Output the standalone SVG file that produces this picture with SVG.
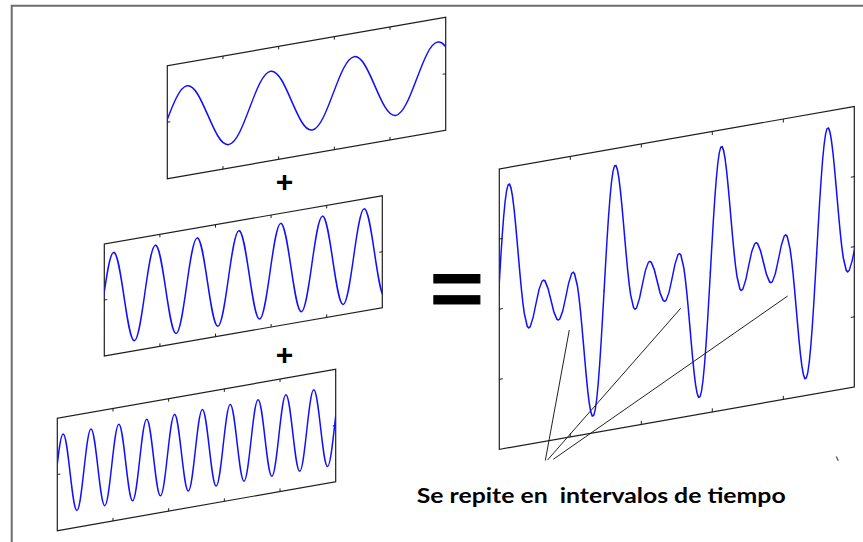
<svg xmlns="http://www.w3.org/2000/svg" xmlns:xlink="http://www.w3.org/1999/xlink" width="863" height="542" viewBox="0 0 863 542">
<style>
.frame{fill:#fff;stroke:#1e1e1e;stroke-width:1.2}
.tick{fill:none;stroke:#1e1e1e;stroke-width:1}
.wave{fill:none;stroke:#1010ff;stroke-width:1.5;stroke-linejoin:round;stroke-linecap:round}
.op{font-family:"Liberation Sans",Arial,sans-serif;font-weight:bold;fill:#000}
.lbl{font-family:Lato,"Open Sans",sans-serif;font-weight:bold;font-size:21px;fill:#000;white-space:pre}
.conn{fill:none;stroke:#222;stroke-width:1}
</style>
<defs>
<clipPath id="c1"><rect x="0" y="-62" width="278.4" height="124"/></clipPath>
<clipPath id="c2"><rect x="0" y="-62" width="278" height="124"/></clipPath>
<clipPath id="c3"><rect x="0" y="-62" width="278.4" height="124"/></clipPath>
<clipPath id="c4"><rect x="0" y="-150" width="355" height="300"/></clipPath>
<path id="bw" class="wave" d="M0,0 L1.48,-25.9 2.95,-50.6 4.43,-73 5.91,-92.1 7.38,-107.1 8.86,-117.5 10.33,-122.9 11.81,-123.3 13.29,-118.9 14.76,-110.3 16.24,-98.1 17.72,-83.1 19.19,-66.5 20.67,-49.1 22.15,-32 23.62,-16.1 25.1,-2.24 26.58,9 29.53,22.2 31,24 32.48,22.9 35.43,13.9 38.39,0 41.34,-13 44.29,-20.5 45.77,-21.3 47.24,-20.1 50.2,-12.3 53.15,0 56.1,12.3 59.06,20.1 60.53,21.3 62.01,20.5 64.96,13 67.91,0 70.87,-13.9 73.82,-22.9 75.3,-24 76.77,-22.2 79.73,-9 81.2,2.24 82.68,16.1 84.15,32 85.63,49.1 87.11,66.5 88.58,83.1 90.06,98.1 91.54,110.3 93.01,118.9 94.49,123.3 95.97,122.9 97.44,117.5 98.92,107.1 100.39,92.1 101.87,73 103.35,50.6 104.82,25.9 106.3,0"/>
</defs>

<path d="M11.7,542 V5.7 H863" fill="none" stroke="#6d6d6d" stroke-width="2"/>

<g id="panel-1" transform="matrix(1,-0.1746,0,1,167.3,122.3)">
<rect class="frame" x="0" y="-56.5" width="278.4" height="113"/>
<path class="tick" d="M55.68,-56.5v3M111.36,-56.5v3M167.04,-56.5v3M222.72,-56.5v3M55.68,56.5v-3M111.36,56.5v-3M167.04,56.5v-3M222.72,56.5v-3M0,0h3M278.4,0h-3"/>
<g clip-path="url(#c1)"><path class="wave" transform="translate(-1.2,0)" d="M0,0 c6.81,-16.91 13.33,-33 20.885,-33 s14.07,16.09 20.885,33 s13.33,33 20.885,33 s14.07,-16.09 20.885,-33 s13.33,-33 20.885,-33 s14.07,16.09 20.885,33 s13.33,33 20.885,33 s14.07,-16.09 20.885,-33 s13.33,-33 20.885,-33 s14.07,16.09 20.885,33 s13.33,33 20.885,33 s14.07,-16.09 20.885,-33 s13.33,-33 20.885,-33 s14.07,16.09 20.885,33"/></g>
</g>

<g id="panel-2" transform="matrix(1,-0.1737,0,1,104.3,300)">
<rect class="frame" x="0" y="-56" width="278" height="112"/>
<path class="tick" d="M55.6,-56v3M111.2,-56v3M166.8,-56v3M222.4,-56v3M55.6,56v-3M111.2,56v-3M166.8,56v-3M222.4,56v-3M0,0h3M278,0h-3"/>
<g clip-path="url(#c2)"><path class="wave" transform="translate(-1.2,0)" d="M0,0 c3.405,-23.57 6.662,-46 10.44,-46 s7.035,22.43 10.44,46 s6.662,46 10.44,46 s7.035,-22.43 10.44,-46 s6.662,-46 10.44,-46 s7.035,22.43 10.44,46 s6.662,46 10.44,46 s7.035,-22.43 10.44,-46 s6.662,-46 10.44,-46 s7.035,22.43 10.44,46 s6.662,46 10.44,46 s7.035,-22.43 10.44,-46 s6.662,-46 10.44,-46 s7.035,22.43 10.44,46 s6.662,46 10.44,46 s7.035,-22.43 10.44,-46 s6.662,-46 10.44,-46 s7.035,22.43 10.44,46 s6.662,46 10.44,46 s7.035,-22.43 10.44,-46 s6.662,-46 10.44,-46 s7.035,22.43 10.44,46 s6.662,46 10.44,46 s7.035,-22.43 10.44,-46 s6.662,-46 10.44,-46 s7.035,22.43 10.44,46 s6.662,46 10.44,46"/></g>
</g>

<g id="panel-3" transform="matrix(1,-0.176,0,1,57.3,474.5)">
<rect class="frame" x="0" y="-56.2" width="278.4" height="112.4"/>
<path class="tick" d="M55.68,-56.2v3M111.36,-56.2v3M167.04,-56.2v3M222.72,-56.2v3M55.68,56.2v-3M111.36,56.2v-3M167.04,56.2v-3M222.72,56.2v-3M0,0h3M278.4,0h-3"/>
<g clip-path="url(#c3)"><path class="wave" transform="translate(-1.2,0)" d="M0,0 c2.27,-20.24 4.442,-39.5 6.962,-39.5 s4.692,19.26 6.962,39.5 s4.442,39.5 6.962,39.5 s4.692,-19.26 6.962,-39.5 s4.442,-39.5 6.962,-39.5 s4.692,19.26 6.962,39.5 s4.442,39.5 6.962,39.5 s4.692,-19.26 6.962,-39.5 s4.442,-39.5 6.962,-39.5 s4.692,19.26 6.962,39.5 s4.442,39.5 6.962,39.5 s4.692,-19.26 6.962,-39.5 s4.442,-39.5 6.962,-39.5 s4.692,19.26 6.962,39.5 s4.442,39.5 6.962,39.5 s4.692,-19.26 6.962,-39.5 s4.442,-39.5 6.962,-39.5 s4.692,19.26 6.962,39.5 s4.442,39.5 6.962,39.5 s4.692,-19.26 6.962,-39.5 s4.442,-39.5 6.962,-39.5 s4.692,19.26 6.962,39.5 s4.442,39.5 6.962,39.5 s4.692,-19.26 6.962,-39.5 s4.442,-39.5 6.962,-39.5 s4.692,19.26 6.962,39.5 s4.442,39.5 6.962,39.5 s4.692,-19.26 6.962,-39.5 s4.442,-39.5 6.962,-39.5 s4.692,19.26 6.962,39.5 s4.442,39.5 6.962,39.5 s4.692,-19.26 6.962,-39.5 s4.442,-39.5 6.962,-39.5 s4.692,19.26 6.962,39.5 s4.442,39.5 6.962,39.5 s4.692,-19.26 6.962,-39.5 s4.442,-39.5 6.962,-39.5 s4.692,19.26 6.962,39.5 s4.442,39.5 6.962,39.5 s4.692,-19.26 6.962,-39.5 s4.442,-39.5 6.962,-39.5 s4.692,19.26 6.962,39.5 s4.442,39.5 6.962,39.5 s4.692,-19.26 6.962,-39.5 s4.442,-39.5 6.962,-39.5"/></g>
</g>

<g id="panel-sum" transform="matrix(1,-0.1759,0,1,499.3,309.15)">
<rect class="frame" x="0" y="-140.2" width="355" height="280.4"/>
<path class="tick" d="M71,-140.2v3.5M142,-140.2v3.5M213,-140.2v3.5M284,-140.2v3.5M71,140.2v-3.5M142,140.2v-3.5M213,140.2v-3.5M284,140.2v-3.5M0,-70.1h3.5M0,0h3.5M0,70.1h3.5M355,-70.1h-3.5M355,0h-3.5M355,70.1h-3.5"/>
<g clip-path="url(#c4)"><g transform="translate(-1.52,0)">
<use xlink:href="#bw"/>
<use xlink:href="#bw" x="106.3"/>
<use xlink:href="#bw" x="212.6"/>
<use xlink:href="#bw" x="318.9"/>
</g></g>
</g>

<g id="op-plus-1"><text class="op" x="284.6" y="192.4" font-size="30" text-anchor="middle">+</text></g>
<g id="op-plus-2"><text class="op" x="284.6" y="364.7" font-size="30" text-anchor="middle">+</text></g>
<g id="op-equals" transform="translate(0,289.2) scale(1,0.85) translate(0,-290.5)"><text class="op" x="430" y="320.5" font-size="92" stroke="#000" stroke-width="1">=</text></g>

<g id="connectors">
<path class="conn" d="M569.3,330 L545.3,460.5"/>
<path class="conn" d="M680.7,308.3 L547.5,460"/>
<path class="conn" d="M787.7,296 L553.3,459.3"/>
<path d="M836.3,456.5 L838.3,460.8" stroke="#555" stroke-width="1.3" fill="none"/>
</g>

<g id="label"><text class="lbl" x="416.7" y="503" textLength="369" lengthAdjust="spacingAndGlyphs">Se repite en  intervalos de tiempo</text></g>
</svg>
